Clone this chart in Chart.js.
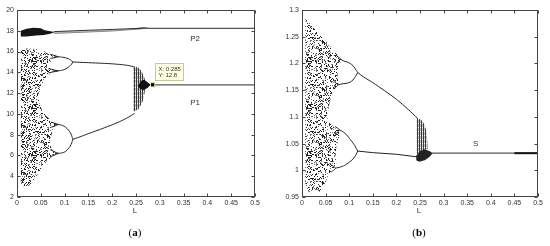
<!DOCTYPE html>
<html>
<head>
<meta charset="utf-8">
<script src="https://cdn.jsdelivr.net/npm/chart.js@4.4.0/dist/chart.umd.min.js"></script>
<style>
  body { margin: 0; background: #fff; width: 550px; height: 246px; overflow: hidden; position: relative; font-family: "Liberation Sans", Arial, sans-serif; }
  .pane { position: absolute; top: 0; width: 275px; height: 246px; }
  #paneA { left: 0; }
  #paneB { left: 275px; }
  .axlbl { position: absolute; font-size: 8px; color: #333; transform: translateX(-50%); }
  .cap { position: absolute; font-family: "Liberation Serif", "Times New Roman", serif; font-size: 11px; color: #000; transform: translateX(-50%); }
</style>
</head>
<body>
<div class="pane" id="paneA"><canvas id="chartA" width="275" height="246"></canvas></div>
<div class="pane" id="paneB"><canvas id="chartB" width="275" height="246"></canvas></div>
<div class="axlbl" style="left:135px;top:206px">L</div>
<div class="axlbl" style="left:419px;top:206px">L</div>
<div class="cap" style="left:135px;top:226px">(<b>a</b>)</div>
<div class="cap" style="left:419px;top:226px">(<b>b</b>)</div>
<script>
// ---- panel (a) : values ----
const aCloud = [[0.008,16.15],[0.02,16.3],[0.035,16.28],[0.05,16.2],[0.06,15.95],[0.07,15.75],[0.078,15.6],[0.074,15.2],[0.066,14.8],[0.068,14.4],[0.075,14.1],[0.066,13.7],[0.056,13.2],[0.049,12.6],[0.046,11.8],[0.047,11.0],[0.053,10.3],[0.063,9.75],[0.073,9.3],[0.082,9.0],[0.077,8.5],[0.071,7.8],[0.069,7.2],[0.073,6.6],[0.08,6.2],[0.072,5.8],[0.062,5.4],[0.053,4.9],[0.045,4.3],[0.036,3.7],[0.028,3.2],[0.02,2.9],[0.012,3.05],[0.008,3.4]];
const aUpArcHi = [[0.078,15.58],[0.087,15.5],[0.095,15.46],[0.102,15.4],[0.108,15.3],[0.112,15.2],[0.115,15.1],[0.117,15.0]];
const aUpArcLo = [[0.075,14.12],[0.087,14.15],[0.095,14.2],[0.102,14.32],[0.108,14.5],[0.112,14.65],[0.115,14.8],[0.117,15.0]];
const aUpMain = [[0.117,15.0],[0.13,14.97],[0.15,14.93],[0.18,14.87],[0.2,14.82],[0.22,14.74],[0.235,14.65],[0.247,14.5]];
const aLoArcHi = [[0.082,9.0],[0.087,8.98],[0.095,8.9],[0.102,8.72],[0.108,8.45],[0.112,8.2],[0.115,7.9],[0.117,7.55]];
const aLoArcLo = [[0.08,6.2],[0.087,6.2],[0.095,6.25],[0.102,6.38],[0.108,6.65],[0.112,6.9],[0.115,7.2],[0.117,7.55]];
const aLoMain = [[0.117,7.55],[0.13,7.75],[0.15,8.1],[0.18,8.6],[0.2,8.95],[0.22,9.35],[0.235,9.7],[0.247,10.05]];
// small period-4 loops where the arcs meet the cloud
const aLoops = [
  [[0.07,15.72],[0.076,15.66],[0.082,15.56],[0.087,15.5],[0.082,15.44],[0.076,15.38],[0.07,15.35]],
  [[0.066,14.35],[0.072,14.3],[0.08,14.2],[0.087,14.15],[0.08,14.08],[0.072,14.0],[0.066,13.95]],
  [[0.072,9.2],[0.078,9.12],[0.083,9.04],[0.087,8.98],[0.083,8.9],[0.078,8.8],[0.072,8.72]],
  [[0.07,6.55],[0.076,6.42],[0.082,6.28],[0.087,6.2],[0.082,6.1],[0.076,5.98],[0.07,5.9]]
];
const aStripes = [[0.244,14.55],[0.254,14.5],[0.262,14.1],[0.268,13.4],[0.27,12.8],[0.268,12.0],[0.264,11.2],[0.256,10.5],[0.245,10.2]];
const aKnot = [[0.254,12.65],[0.26,13.15],[0.267,13.3],[0.274,13.05],[0.281,12.8],[0.274,12.5],[0.266,12.3],[0.259,12.4]];
const aTopBlob = [[0.008,17.45],[0.008,18.0],[0.02,18.2],[0.035,18.3],[0.05,18.25],[0.058,18.05],[0.07,17.95],[0.08,17.88],[0.07,17.72],[0.056,17.6],[0.04,17.55],[0.02,17.45]];
const aWedgeHi = [[0.078,17.92],[0.15,18.05],[0.2,18.13],[0.25,18.22],[0.27,18.25]];
const aWedgeLo = [[0.078,17.75],[0.15,17.88],[0.2,17.98],[0.25,18.15],[0.27,18.23]];
const aTopKnot = [[0.235,18.15],[0.25,18.27],[0.265,18.32],[0.275,18.28],[0.27,18.2],[0.25,18.14]];
const aP1 = [[0.28,12.8],[0.5,12.8]];
const aP2 = [[0.265,18.23],[0.5,18.23]];
const aTip = [0.285, 12.8];
const aNotes = [{x: 0.374, y: 17.2, text: 'P2'}, {x: 0.374, y: 11.06, text: 'P1'}];

// ---- panel (b) ----
const bCloud = [[0.007,1.283],[0.03,1.262],[0.05,1.242],[0.07,1.222],[0.083,1.208],[0.079,1.195],[0.075,1.182],[0.077,1.16],[0.069,1.152],[0.063,1.14],[0.057,1.12],[0.052,1.1],[0.058,1.09],[0.068,1.08],[0.08,1.075],[0.078,1.06],[0.073,1.045],[0.071,1.025],[0.073,1.008],[0.063,1.0],[0.056,0.99],[0.05,0.978],[0.042,0.966],[0.035,0.958],[0.02,0.957],[0.01,0.962],[0.007,0.975]];
const bUpArcHi = [[0.082,1.208],[0.087,1.205],[0.095,1.203],[0.102,1.2],[0.108,1.196],[0.112,1.191],[0.115,1.187],[0.118,1.183]];
const bUpArcLo = [[0.076,1.16],[0.087,1.162],[0.095,1.163],[0.102,1.165],[0.108,1.169],[0.112,1.174],[0.115,1.178],[0.118,1.183]];
const bUpMain = [[0.118,1.183],[0.13,1.175],[0.15,1.164],[0.175,1.149],[0.2,1.133],[0.225,1.114],[0.245,1.097]];
const bLoArcHi = [[0.079,1.076],[0.087,1.072],[0.095,1.066],[0.102,1.058],[0.108,1.051],[0.112,1.046],[0.115,1.041],[0.118,1.036]];
const bLoArcLo = [[0.071,1.004],[0.081,1.006],[0.09,1.009],[0.1,1.015],[0.108,1.021],[0.112,1.026],[0.115,1.03],[0.118,1.036]];
const bLoMain = [[0.118,1.036],[0.15,1.033],[0.2,1.03],[0.245,1.025]];
const bLoops = [
  [[0.072,1.216],[0.077,1.212],[0.082,1.208],[0.077,1.203],[0.072,1.199]],
  [[0.068,1.166],[0.072,1.163],[0.076,1.16],[0.072,1.156],[0.068,1.153]],
  [[0.07,1.082],[0.075,1.079],[0.079,1.076],[0.075,1.071],[0.07,1.067]],
  [[0.062,1.01],[0.067,1.007],[0.071,1.004],[0.067,1.0],[0.062,0.997]]
];
const bStripes = [[0.243,1.098],[0.252,1.095],[0.258,1.088],[0.263,1.075],[0.265,1.06],[0.266,1.04],[0.243,1.03]];
const bKnot = [[0.242,1.027],[0.25,1.036],[0.26,1.039],[0.27,1.036],[0.277,1.032],[0.27,1.025],[0.26,1.019],[0.248,1.016],[0.242,1.019]];
const bS = [[0.275,1.032],[0.5,1.032]];
const bSEnd = [[0.45,1.032],[0.5,1.032]];
const bNotes = [{x: 0.368, y: 1.05, text: 'S'}];

const xTicksMax = 0.5, xStep = 0.05;

const pts = arr => arr.map(p => ({x: p[0], y: p[1]}));

// speckle texture for the chaotic bands (style only, fixed seed)
function speckle(w, h, n) {
  const c = document.createElement('canvas');
  c.width = w; c.height = h;
  const g = c.getContext('2d');
  let s = 12345;
  const next = () => (s = (Math.imul(s, 1103515245) + 12345) & 0x7fffffff);
  for (let i = 0; i < n; i++) {
    g.fillStyle = (i % 3 === 0) ? '#777' : '#222';
    g.fillRect(next() % w, next() % h, 1, 1);
  }
  return g.createPattern(c, 'repeat');
}
function stripes(dark, light) {
  const c = document.createElement('canvas');
  c.width = 2; c.height = 4;
  const g = c.getContext('2d');
  g.fillStyle = light; g.fillRect(0, 0, 2, 4);
  g.fillStyle = dark; g.fillRect(0, 0, 1, 4);
  g.fillStyle = '#fff'; g.fillRect(1, 3, 1, 1);
  return g.createPattern(c, 'repeat');
}
const dotFill = speckle(53, 47, 900);
const stripeFill = stripes('#3a3a3a', '#c4c4c4');

const line = (data, w, col, tension) => ({ data: pts(data), showLine: true, pointRadius: 0, borderWidth: w || 1, borderColor: col || '#222', tension: tension || 0, fill: false });
const shape = (data, bg) => ({ data: pts(data).concat(pts([data[0]])), showLine: true, pointRadius: 0, borderWidth: 0, borderColor: 'rgba(0,0,0,0)', backgroundColor: bg, fill: 'shape' });

// inward MATLAB style ticks and frame
const framePlugin = {
  id: 'frame',
  afterDatasetsDraw(chart) {
    const {ctx, chartArea: a, scales: {x, y}} = chart;
    ctx.save();
    ctx.strokeStyle = '#444';
    ctx.lineWidth = 1;
    const L = Math.round(a.left) + 0.5, R = Math.round(a.right) - 0.5, T = Math.round(a.top) + 0.5, B = Math.round(a.bottom) - 0.5;
    ctx.strokeRect(L, T, R - L, B - T);
    ctx.beginPath();
    x.ticks.forEach(t => {
      const p = Math.round(x.getPixelForValue(t.value)) + 0.5;
      ctx.moveTo(p, B); ctx.lineTo(p, B - 3);
      ctx.moveTo(p, T); ctx.lineTo(p, T + 3);
    });
    y.ticks.forEach(t => {
      const p = Math.round(y.getPixelForValue(t.value)) + 0.5;
      ctx.moveTo(L, p); ctx.lineTo(L + 3, p);
      ctx.moveTo(R, p); ctx.lineTo(R - 3, p);
    });
    ctx.stroke();
    ctx.restore();
  }
};

// text notes placed at data coordinates, plus the data tip
const notesPlugin = {
  id: 'notes',
  afterDraw(chart, args, opts) {
    const {ctx, scales: {x, y}} = chart;
    ctx.save();
    ctx.fillStyle = '#333';
    ctx.font = '8px "Liberation Sans", Arial, sans-serif';
    ctx.textAlign = 'center';
    ctx.textBaseline = 'middle';
    (opts.items || []).forEach(n => ctx.fillText(n.text, x.getPixelForValue(n.x), y.getPixelForValue(n.y)));
    if (opts.tip) {
      const px = x.getPixelForValue(opts.tip[0]), py = y.getPixelForValue(opts.tip[1]);
      const bx = Math.round(px + 2) + 0.5, by = Math.round(py - 22) + 0.5;
      ctx.fillStyle = '#ffffe1';
      ctx.strokeStyle = '#c8c8a0';
      ctx.fillRect(bx, by, 28, 17);
      ctx.strokeRect(bx, by, 28, 17);
      ctx.fillStyle = '#333';
      ctx.font = '6px "Liberation Sans", Arial, sans-serif';
      ctx.textAlign = 'left';
      ctx.fillText('X: ' + opts.tip[0], bx + 3, by + 5.5);
      ctx.fillText('Y: ' + opts.tip[1], bx + 3, by + 11.5);
    }
    ctx.restore();
  }
};

const fmt = v => String(+Number(v).toFixed(2));

function makeChart(id, datasets, ymin, ymax, ystep, yWidth, padRight, notes) {
  return new Chart(document.getElementById(id), {
    type: 'scatter',
    data: { datasets },
    options: {
      responsive: false,
      animation: false,
      layout: { padding: { left: 0, top: 10, right: padRight, bottom: 0 } },
      plugins: { legend: { display: false }, tooltip: { enabled: false }, notes },
      scales: {
        x: {
          type: 'linear', min: 0, max: xTicksMax,
          ticks: { stepSize: xStep, autoSkip: false, maxRotation: 0, padding: 2, color: '#333', font: { family: '"Liberation Sans", Arial, sans-serif', size: 7 }, callback: fmt },
          grid: { display: false, drawTicks: false },
          border: { display: false },
          afterFit: s => { s.height = 49; }
        },
        y: {
          type: 'linear', min: ymin, max: ymax,
          ticks: { stepSize: ystep, autoSkip: false, padding: 3, color: '#333', font: { family: '"Liberation Sans", Arial, sans-serif', size: 7 }, callback: fmt },
          grid: { display: false, drawTicks: false },
          border: { display: false },
          afterFit: s => { s.width = yWidth; }
        }
      }
    },
    plugins: [framePlugin, notesPlugin]
  });
}

const dsA = [
  { data: pts([aTip]), pointStyle: 'rect', pointRadius: 3, backgroundColor: '#000', borderColor: '#e8e8b0', borderWidth: 1, showLine: false },
  line(aUpArcHi, 1, '#222', 0.2), line(aUpArcLo, 1, '#222', 0.2), line(aUpMain, 1, '#222', 0.2),
  line(aLoArcHi, 1, '#222', 0.2), line(aLoArcLo, 1, '#222', 0.2), line(aLoMain, 1, '#222', 0.2),
  ...aLoops.map(l => line(l, 1, '#222', 0.3)),
  line(aP1, 1.2, '#555'), line(aP2, 1.2, '#555'),
  line(aWedgeHi, 1, '#333'), line(aWedgeLo, 1, '#888'),
  shape(aKnot, '#111'), shape(aTopKnot, '#111'), shape(aTopBlob, '#151515'),
  shape(aWedgeHi.concat(aWedgeLo.slice().reverse()), '#c8c8c8'),
  shape(aStripes, stripeFill),
  shape(aCloud, dotFill)
];

const dsB = [
  line(bUpArcHi, 1, '#222', 0.2), line(bUpArcLo, 1, '#222', 0.2), line(bUpMain, 1, '#222', 0.2),
  line(bLoArcHi, 1, '#222', 0.2), line(bLoArcLo, 1, '#222', 0.2), line(bLoMain, 1, '#222'),
  ...bLoops.map(l => line(l, 1, '#222', 0.3)),
  line(bSEnd, 2, '#111'), line(bS, 1.2, '#555'),
  shape(bKnot, '#222'),
  shape(bStripes, stripeFill),
  shape(bCloud, dotFill)
];

makeChart('chartA', dsA, 2, 20, 2, 17, 20, { items: aNotes, tip: aTip });
makeChart('chartB', dsB, 0.95, 1.3, 0.05, 27, 12, { items: bNotes });
</script>
</body>
</html>
